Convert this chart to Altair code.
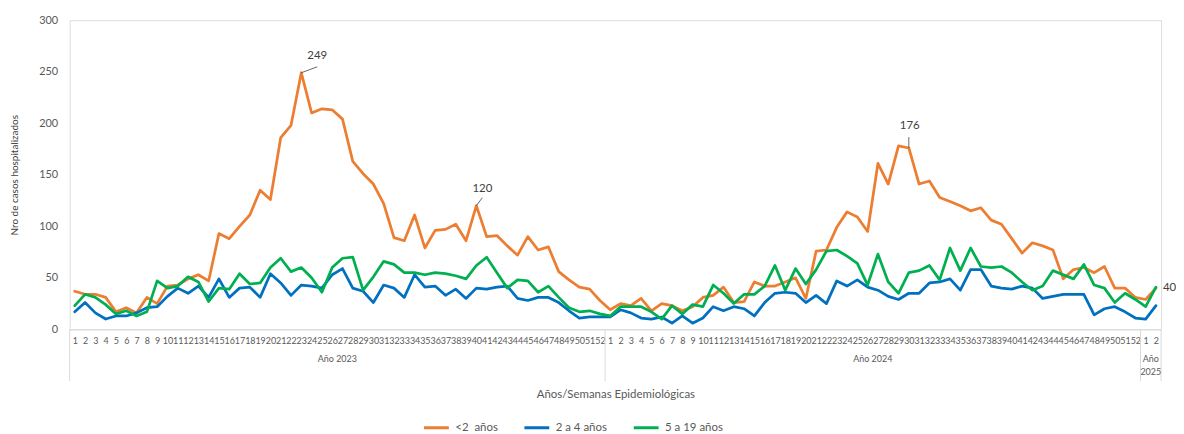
import json
import altair as alt
import pandas as pd

# ---------------- data ----------------
series_names = ["<2\u00a0 años", "2 a 4 años", "5 a 19 años"]
series_colors = ["#ED7D31", "#0070C0", "#00B050"]

year_names = ["Año 2023", "Año 2024", "Año\n2025"]
weeks_per_year = [52, 52, 2]
week_labels = [w for n in weeks_per_year for w in range(1, n + 1)]

menores2 = [37, 34, 34, 31, 17, 21, 16, 31, 25, 42, 43, 49, 53, 47, 93, 88, 100, 111,
            135, 126, 186, 198, 249, 210, 214, 213, 204, 163, 151, 141, 122, 89, 86, 111,
            79, 96, 97, 102, 86, 120, 90, 91, 81, 72, 90, 77, 80, 56, 48, 41, 39, 28,
            19, 25, 23, 30, 18, 25, 23, 18, 22, 31, 33, 41, 26, 27, 46, 42, 42, 46, 50, 30,
            76, 77, 99, 114, 109, 95, 161, 141, 178, 176, 141, 144, 128, 124, 120, 115, 118,
            106, 102, 88, 74, 84, 81, 77, 49, 58, 60, 55, 61, 40, 40, 31, 29,
            40]
de2a4 = [17, 26, 16, 10, 13, 13, 16, 21, 22, 32, 40, 35, 42, 31, 49, 31, 40, 41,
         31, 54, 45, 33, 43, 42, 40, 53, 59, 40, 37, 26, 43, 40, 31, 53, 41, 42, 33,
         39, 30, 40, 39, 41, 42, 30, 28, 31, 31, 26, 18, 11, 12, 12,
         12, 19, 16, 11, 10, 12, 6, 13, 6, 11, 22, 18, 22, 20, 13, 26, 35, 36, 35, 26,
         33, 25, 47, 42, 48, 41, 38, 32, 29, 35, 35, 45, 46, 49, 38, 58, 58, 42, 40,
         39, 42, 40, 30, 32, 34, 34, 34, 14, 20, 22, 17, 11, 10,
         23]
de5a19 = [23, 34, 31, 24, 15, 18, 13, 17, 47, 40, 42, 51, 46, 27, 40, 39, 54, 44,
          45, 60, 69, 56, 60, 50, 36, 60, 69, 70, 38, 51, 66, 63, 55, 55, 53, 55, 54,
          52, 49, 62, 70, 55, 40, 48, 47, 36, 42, 31, 21, 17, 18, 15,
          13, 22, 22, 22, 17, 10, 23, 15, 24, 22, 43, 35, 25, 34, 34, 42, 62, 38, 59, 44,
          58, 76, 77, 71, 64, 43, 73, 46, 35, 55, 57, 62, 48, 79, 57, 79, 61, 60, 61,
          55, 46, 38, 42, 57, 53, 49, 63, 43, 40, 26, 35, 29, 22,
          41]

# data labels shown on the <2 años series: (index, dx, dy, leader dx, leader dy, align)
annotations = [(22, 16, -17, 16, -6, "center"),
               (39, 6, -17, 6, -8, "center"),
               (81, 1, -22, 0, -11, "center"),
               (105, 7, 0, 0, 0, "left")]

# ---------------- tables ----------------
n = len(week_labels)
idx = list(range(n))
rows = []
for name, vals in zip(series_names, [menores2, de2a4, de5a19]):
    for i, v in zip(idx, vals):
        rows.append({"idx": i, "value": v, "serie": name})
df = pd.DataFrame(rows)

bounds = [-0.5]
for c in weeks_per_year:
    bounds.append(bounds[-1] + c)
df_sep = pd.DataFrame({"idx": bounds})
df_year = pd.DataFrame({
    "idx": [(bounds[k] + bounds[k + 1]) / 2 for k in range(len(year_names))],
    "label": year_names,
})

W, H = 1098, 311
FONT = "Lato"
GREY = "#595959"

x_scale = alt.Scale(domain=[bounds[0], bounds[-1]], nice=False, zero=False)
y_scale = alt.Scale(domain=[0, 300], nice=False)

x_axis = alt.Axis(values=idx,
                  labelExpr=f"{json.dumps(week_labels)}[datum.value]",
                  labelOverlap=False, labelFlush=False, labelAngle=0, labelSeparation=0,
                  labelFontSize=9, labelColor=GREY, labelPadding=7,
                  ticks=False, grid=False, domainColor="#d9d9d9", domainWidth=1,
                  title="Años/Semanas Epidemiológicas", titleFontSize=11.5,
                  titleFontWeight="normal", titleColor=GREY,
                  titleX=W / 2, titleY=66, titleBaseline="middle")
y_axis = alt.Axis(values=[0, 50, 100, 150, 200, 250, 300], domain=False, ticks=False,
                  grid=False, labelPadding=12, labelColor=GREY, labelFontSize=11,
                  title="Nro de casos hospitalizados", titleFontSize=10,
                  titleFontWeight="normal", titleColor="#404040",
                  titleX=-55, titleY=H / 2, titleBaseline="middle")


def X(field="idx:Q"):
    return alt.X(field, scale=x_scale, axis=x_axis)


def Y(field="value:Q"):
    return alt.Y(field, scale=y_scale, axis=y_axis)


lines = alt.Chart(df).mark_line(strokeWidth=2.75, strokeJoin="round", strokeCap="round").encode(
    x=X(),
    y=Y(),
    color=alt.Color("serie:N", sort=series_names,
                    scale=alt.Scale(domain=series_names, range=series_colors),
                    legend=alt.Legend(title=None, orient="none", direction="horizontal",
                                      legendX=355, legendY=396, symbolType="stroke",
                                      symbolSize=625, symbolStrokeWidth=3, labelFontSize=11.5,
                                      labelColor=GREY, labelOffset=5, columnPadding=20,
                                      padding=0)),
)

seps = alt.Chart(df_sep).mark_rule(color="#d9d9d9", strokeWidth=1).encode(
    x=X(),
    y=alt.value(H),
    y2=alt.value(H + 52),
)

years = alt.Chart(df_year).mark_text(baseline="top", fontSize=9, color=GREY,
                                       lineBreak="\n", lineHeight=13, font=FONT).encode(
    x=X(),
    y=alt.value(H + 26),
    text="label:N",
)

layers = [lines, seps, years]
for i, dx, dy, lx, ly, al in annotations:
    d = pd.DataFrame({"idx": [i], "value": [menores2[i]], "t": [str(menores2[i])]})
    layers.append(alt.Chart(d).mark_text(dx=dx, dy=dy, align=al, baseline="middle",
                                         fontSize=11.5, color="#404040", font=FONT).encode(
        x=X(), y=Y(), text="t:N"))
    if lx or ly:
        layers.append(alt.Chart(d).mark_rule(color="#404040", strokeWidth=0.8,
                                             x2Offset=lx, y2Offset=ly).encode(
            x=X(), y=Y(), x2="idx:Q", y2="value:Q"))

chart = alt.layer(*layers).properties(
    width=W, height=H,
    autosize=alt.AutoSizeParams(type="none"),
    padding={"left": 62, "top": 11, "right": 15, "bottom": 104},
).configure_view(stroke=None).configure(font=FONT).configure_axisX(labelOverlap=False)

chart.save("out.html", embed_options={"renderer": "svg", "actions": False})
